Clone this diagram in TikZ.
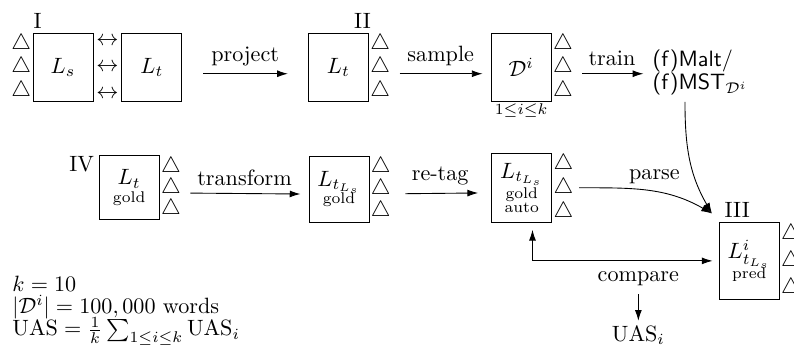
\documentclass[tikz,border=0pt]{standalone}
\usetikzlibrary{shapes,arrows,arrows.meta,calc}
\usetikzlibrary{positioning}

\begin{document}
\begin{tikzpicture}[scale=1]
	\tikzset{corpus/.style={rectangle, draw, minimum width=0.95cm, minimum height=1.08cm, align=center, inner sep=1pt}};
	\tikzset{tri/.style={rectangle, inner sep=0.5pt}};
	\tikzset{stage/.style={rectangle, inner sep=2pt}};
	\tikzset{flow/.style={-{Latex[length=1.7mm, width=1.1mm]}}};
	\useasboundingbox (0cm,0cm) rectangle (12.6cm,-5.618cm);
	% Place nodes
	\node [corpus] (ls) at (1.00cm,-1.07cm) {$L_s$};
	\node [corpus] (lt) at (2.41cm,-1.07cm) {$L_t$};
	\node [stage, anchor=south] (one) at ([xshift=0.08cm]ls.north west) {I};
	\node [tri, anchor=north east] (ls-t1) at (ls.north west) {$\triangle$};
	\node [tri, anchor=east] (ls-t2) at (ls.west) {$\triangle$};
	\node [tri, anchor=south east] (ls-t3) at (ls.south west) {$\triangle$};
	\node [tri, anchor=north] (lr1) at ($(ls.north east)!0.5!(lt.north west)$) [yshift=-0.05cm] {$\leftrightarrow$};
	\node [tri] (lr2) at ($(ls.east)!0.5!(lt.west)$) {$\leftrightarrow$};
	\node [tri, anchor=south] (lr3) at ($(ls.south east)!0.5!(lt.south west)$) [yshift=0.03cm] {$\leftrightarrow$};

	\node [corpus] (proj) at (5.37cm,-1.07cm) {$L_t$};
	\node [stage, anchor=south] (two) at ([xshift=-0.1cm]proj.north east) {II};
	\draw [flow, shorten <=0.33cm, shorten >=0.32cm] ([yshift=-0.1cm]lt.east) -- node[above, pos=0.5] {project} ([yshift=-0.1cm]proj.west);

	\node [corpus] (sample) at (8.27cm,-1.07cm) {$\mathcal{D}^i$};
	\node [tri, anchor=north] (range) at (sample.south) {$\scriptstyle 1\le i\le k$};
	\draw [flow, shorten <=0.49cm, shorten >=0.13cm] ([yshift=-0.1cm]proj.east) -- node[above, pos=0.59] {sample} ([yshift=-0.1cm]sample.west);

	\node [anchor=west, inner sep=0pt, align=left, font=\sffamily] (parser) at (10.35cm,-1.15cm) {(f)Malt/\\[-1.5pt](f)MST$_{\mathcal{D}^i}$};
	\draw [flow, shorten <=0.49cm, shorten >=0.14cm] ([yshift=-0.1cm]sample.east) -- node[above, pos=0.6] {train} ([yshift=-0.1cm]sample.east -| parser.west);

	\node [corpus, minimum height=1.02cm] (gold) at (2.05cm,-2.98cm) {$L_t$\\[-4pt]{\scriptsize gold}};
	\node [stage, anchor=east] (four) at ([yshift=-0.14cm]gold.north west) {IV};
	\node [corpus, minimum height=1.05cm] (conv) at (5.38cm,-3.00cm) {$L_{t_{L_s}}$\\[-4pt]{\scriptsize gold}};
	\draw [flow, shorten <=0.49cm, shorten >=0.13cm] ([yshift=-0.08cm]gold.east) -- node[above, pos=0.57] {transform} ([yshift=-0.08cm]conv.west);

	\node [corpus, minimum height=1.10cm] (auto) at (8.28cm,-2.98cm) {$L_{t_{L_s}}$\\[-3pt]{\scriptsize gold}\\[-5.5pt]{\scriptsize auto}};
	\draw [flow, shorten <=0.57cm, shorten >=0.21cm] ([yshift=-0.08cm]conv.east) -- node[above, pos=0.58] {re-tag} ([yshift=-0.08cm]auto.west);

	\node [corpus, minimum height=1.21cm] (pred) at (11.89cm,-4.14cm) {$L^i_{t_{L_s}}$\\[-3pt]{\scriptsize pred}};
	\node [stage, anchor=south] (three) at ([xshift=0.29cm]pred.north west) {III};
	\coordinate (predin) at ([shift={(-0.11cm,0.14cm)}]pred.north west);
	\draw [flow] ([xshift=0.43cm]auto.east) to[out=0, in=150] node[above, pos=0.55] {parse} (predin);
	\draw [flow] ([shift={(0.52cm,-0.1cm)}]parser.south west) to[out=-90, in=120] (predin);

	% triangles on the right of the boxes
	\foreach \b in {proj, sample, gold, conv, auto, pred} {
		\node [tri, anchor=north west] (\b-t1) at (\b.north east) {$\triangle$};
		\node [tri, anchor=west] (\b-t2) at (\b.east) {$\triangle$};
		\node [tri, anchor=south west] (\b-t3) at (\b.south east) {$\triangle$};
	}

	\node [stage] (cmp) at (10.13cm,-4.42cm) {compare};
	\node [stage] (uas) at (10.13cm,-5.32cm) {UAS$_i$};
	\draw [{Latex[length=1.7mm, width=1.1mm]}-{Latex[length=1.7mm, width=1.1mm]}] ([shift={(0.17cm,-0.11cm)}]auto.south) |- ([xshift=-0.1cm]pred.west);
	\draw [flow, shorten <=0.06cm] (cmp) -- (uas);

	\node [anchor=west, inner sep=0pt, align=left] (stats) at (0.19cm,-4.93cm) {$k=10$\\[-2pt]$|\mathcal{D}^i|=100,000$ words\\[-2pt]$\mathrm{UAS}=\frac{1}{k}\sum_{1\le i\le k}\mathrm{UAS}_i$};
\end{tikzpicture}
\end{document}
